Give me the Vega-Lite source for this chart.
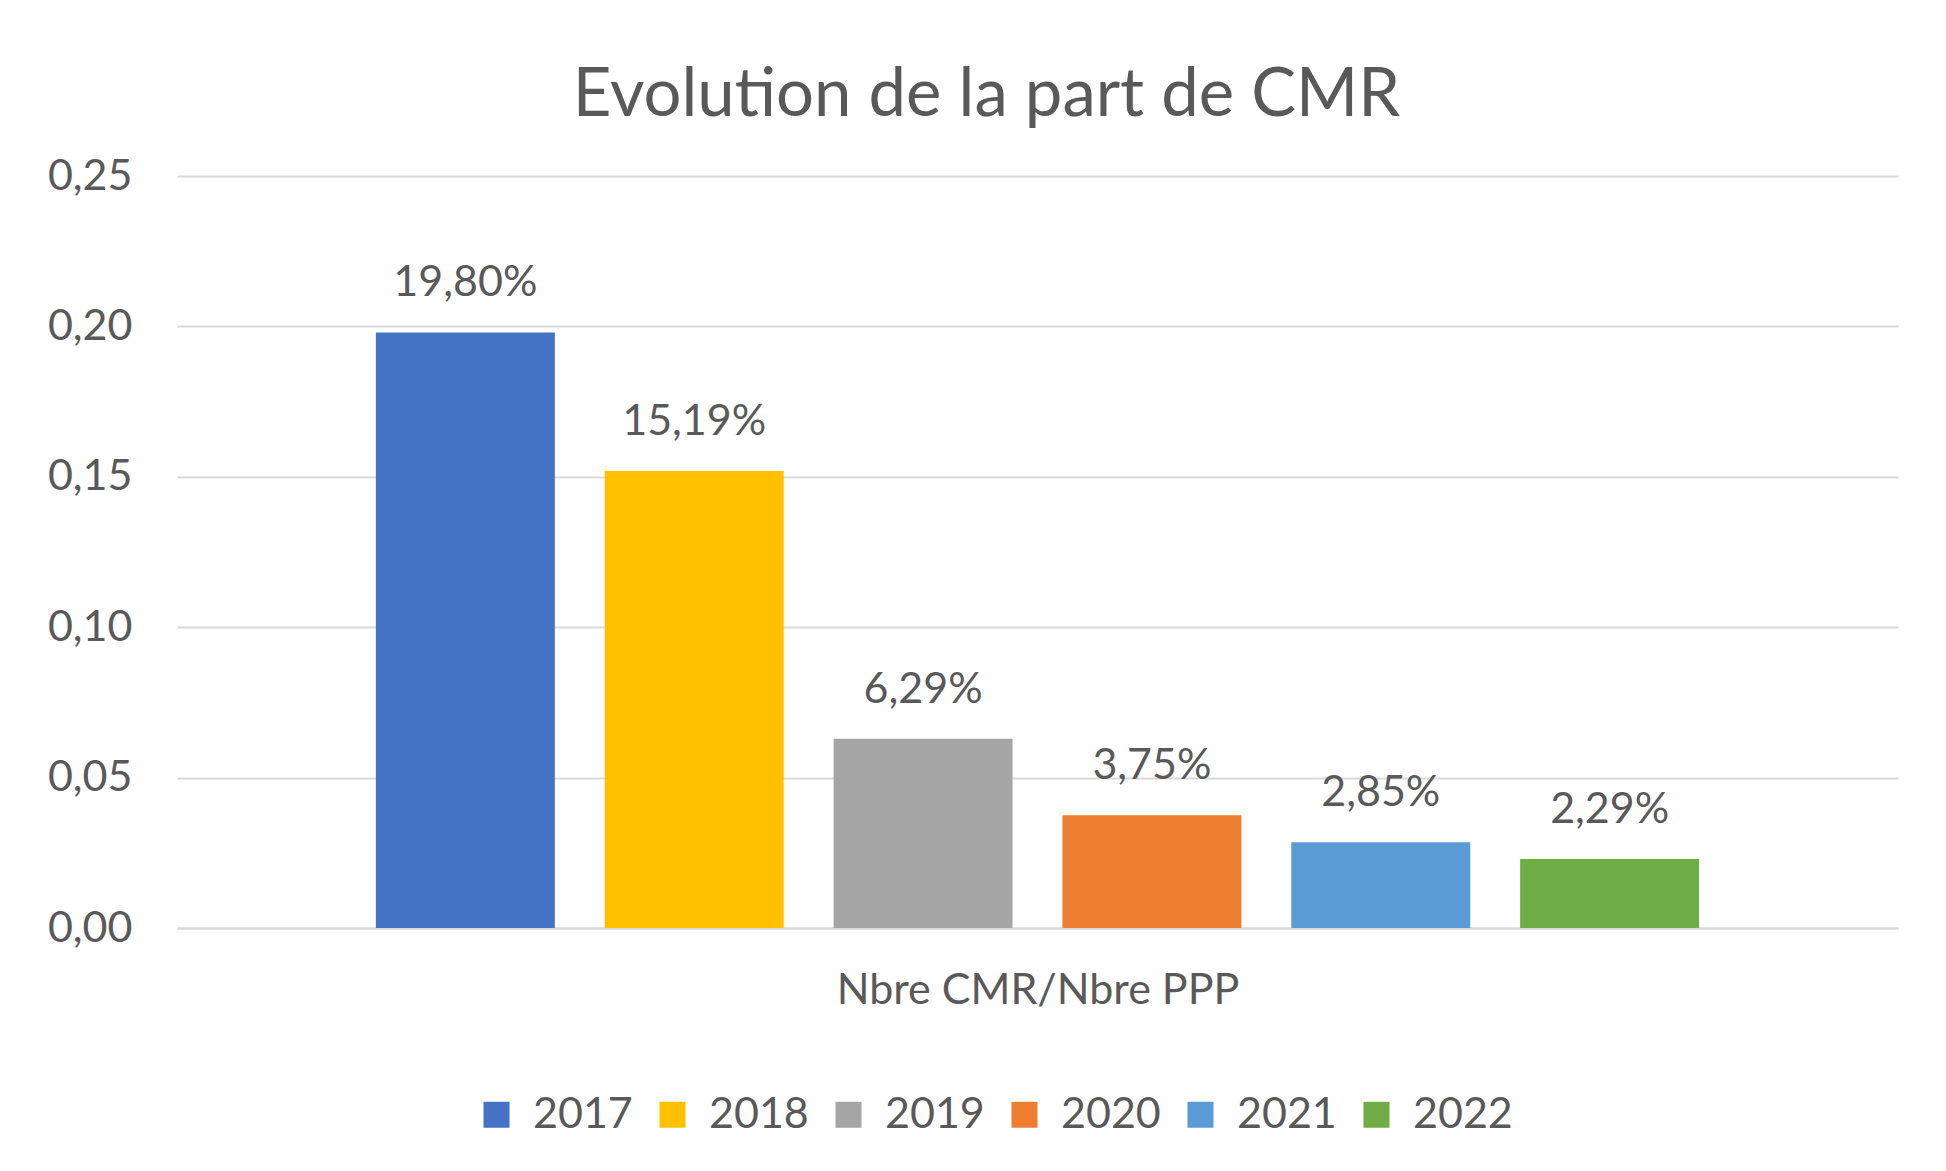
{
  "$schema": "https://vega.github.io/schema/vega-lite/v6.json",
  "width": 1721,
  "height": 752,
  "autosize": {"type": "none"},
  "padding": {"left": 177, "top": 176, "right": 48, "bottom": 243},
  "background": "white",
  "title": {
    "text": "Evolution de la part de CMR",
    "font": "Lato",
    "fontSize": 67,
    "fontWeight": "normal",
    "color": "#595959",
    "anchor": "middle",
    "frame": "group",
    "dx": -51,
    "dy": 68,
    "baseline": "alphabetic",
    "offset": 40
  },
  "data": {
    "values": [
      {"year": "2017", "value": 0.198},
      {"year": "2018", "value": 0.1519},
      {"year": "2019", "value": 0.0629},
      {"year": "2020", "value": 0.0375},
      {"year": "2021", "value": 0.0285},
      {"year": "2022", "value": 0.0229}
    ]
  },
  "transform": [
    {"calculate": "replace(format(datum.value, '.2%'), '.', ',')", "as": "label"}
  ],
  "encoding": {
    "x": {
      "field": "year",
      "type": "nominal",
      "scale": {"paddingInner": 0.218, "paddingOuter": 0.869},
      "axis": {
        "labels": false,
        "ticks": false,
        "domain": true,
        "domainColor": "#d9d9d9",
        "domainWidth": 2,
        "title": "Nbre CMR/Nbre PPP",
        "titleFont": "Lato",
        "titleFontSize": 43,
        "titleFontWeight": "normal",
        "titleColor": "#595959",
        "titlePadding": 41
      }
    },
    "y": {
      "field": "value",
      "type": "quantitative",
      "scale": {"domain": [0, 0.25], "nice": false},
      "axis": {
        "values": [0, 0.05, 0.1, 0.15, 0.2, 0.25],
        "labelExpr": "replace(format(datum.value, '.2f'), '.', ',')",
        "grid": true,
        "gridColor": "#d9d9d9",
        "gridWidth": 2,
        "domain": false,
        "ticks": false,
        "labelPadding": 45,
        "labelFont": "Lato",
        "labelFontSize": 43,
        "labelColor": "#595959",
        "title": null
      }
    }
  },
  "layer": [
    {
      "mark": {"type": "bar"},
      "encoding": {
        "color": {
          "field": "year",
          "type": "nominal",
          "scale": {
            "domain": ["2017", "2018", "2019", "2020", "2021", "2022"],
            "range": ["#4472C4", "#FFC000", "#A5A5A5", "#ED7D31", "#5B9BD5", "#70AD47"]
          },
          "legend": {
            "orient": "none",
            "legendX": 298,
            "legendY": 917,
            "direction": "horizontal",
            "columns": 6,
            "columnPadding": 18,
            "symbolType": "square",
            "symbolSize": 676,
            "symbolStrokeWidth": 0,
            "labelFont": "Lato",
            "labelFontSize": 43,
            "labelColor": "#595959",
            "labelOffset": 15,
            "title": null
          }
        }
      }
    },
    {
      "mark": {
        "type": "text",
        "font": "Lato",
        "fontSize": 43,
        "color": "#595959",
        "baseline": "alphabetic",
        "align": "center",
        "dy": -36
      },
      "encoding": {
        "text": {"field": "label"}
      }
    }
  ],
  "config": {
    "view": {"stroke": null}
  }
}
